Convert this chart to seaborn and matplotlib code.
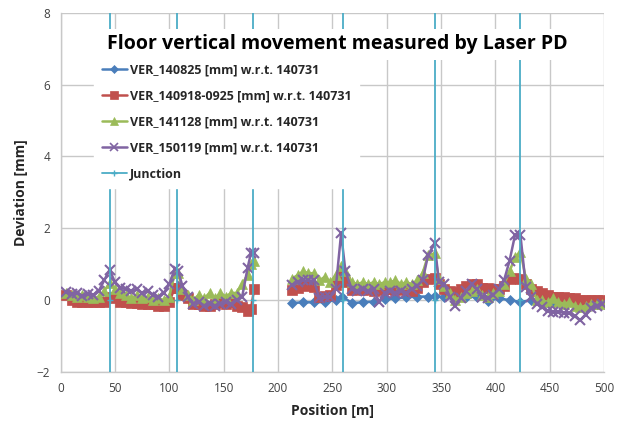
import numpy as np
import pandas as pd
import matplotlib
matplotlib.use("Agg")
import matplotlib.pyplot as plt
from matplotlib.lines import Line2D
import seaborn as sns

# ---------------- data ----------------
x_seg1 = [5, 10, 15, 20, 25, 30, 35, 40, 45, 50, 55, 60, 65, 70, 75, 80, 85, 90, 95, 100,
          105, 108, 112, 117, 122, 127, 132, 137, 142, 147, 152, 157, 162, 167, 172, 175, 178]
x_seg2 = [213, 218, 223, 228, 233, 238, 243, 248, 253, 258, 262, 268, 273, 278, 283, 288,
          293, 298, 303, 308, 313, 318, 323, 328, 333, 338, 344, 348, 353, 358, 363, 368,
          373, 378, 383, 388, 393, 398, 403, 408, 413, 418, 423, 428, 433, 438, 443, 448,
          453, 458, 463, 468, 473, 478, 483, 488, 493, 498]

red_seg1 = [0.15, 0.0, -0.05, -0.05, -0.05, -0.05, -0.05, -0.05, 0.1, 0.05, -0.05, -0.05,
            -0.08, -0.08, -0.1, -0.1, -0.1, -0.15, -0.15, -0.05, 0.35, 0.35, 0.15, 0.05,
            -0.1, -0.1, -0.15, -0.15, -0.1, -0.05, -0.1, -0.05, -0.15, -0.2, -0.3, -0.25, 0.3]
green_seg1 = [0.2, 0.15, 0.1, 0.15, 0.1, 0.05, 0.1, 0.25, 0.48, 0.3, 0.2, 0.15, 0.05, 0.15,
              0.05, 0.1, 0.0, 0.05, 0.0, 0.1, 0.75, 0.75, 0.3, 0.15, 0.0, 0.15, 0.05, 0.2,
              0.05, 0.2, 0.1, 0.2, 0.2, 0.45, 0.7, 1.0, 1.1]
purple_seg1 = [0.22, 0.18, 0.2, 0.12, 0.18, 0.15, 0.25, 0.55, 0.84, 0.5, 0.35, 0.3, 0.25,
               0.3, 0.2, 0.25, 0.15, 0.1, 0.2, 0.45, 0.88, 0.82, 0.4, 0.1, -0.1, -0.05,
               -0.15, -0.1, -0.15, -0.1, -0.05, -0.1, 0.0, 0.1, 0.9, 1.3, 1.3]

red_seg2 = [0.28, 0.35, 0.42, 0.4, 0.38, 0.1, 0.12, 0.15, 0.42, 0.7, 0.5, 0.28, 0.3, 0.28,
            0.3, 0.25, 0.28, 0.3, 0.3, 0.28, 0.3, 0.28, 0.25, 0.35, 0.5, 0.6, 0.62, 0.45,
            0.3, 0.25, 0.23, 0.3, 0.4, 0.45, 0.45, 0.35, 0.35, 0.3, 0.3, 0.4, 0.6, 0.62,
            0.6, 0.45, 0.32, 0.25, 0.2, 0.15, 0.1, 0.1, 0.1, 0.05, 0.05, 0.0, 0.0, 0.0,
            0.0, 0.0]
green_seg2 = [0.6, 0.7, 0.8, 0.75, 0.75, 0.55, 0.65, 0.5, 0.7, 0.95, 0.8, 0.5, 0.45, 0.5,
              0.45, 0.5, 0.45, 0.5, 0.5, 0.55, 0.45, 0.5, 0.45, 0.55, 0.75, 1.25, 1.3, 0.6,
              0.4, 0.2, 0.0, 0.1, 0.2, 0.25, 0.3, 0.15, 0.1, 0.2, 0.25, 0.45, 0.8, 1.2,
              1.35, 0.6, 0.45, 0.0, 0.0, -0.05, 0.05, -0.05, -0.1, -0.05, -0.15, -0.2,
              -0.15, -0.1, -0.1, -0.1]
purple_seg2 = [0.42, 0.5, 0.55, 0.55, 0.55, 0.05, 0.08, 0.1, 0.3, 1.86, 0.8, 0.3, 0.25,
               0.3, 0.25, 0.3, -0.05, 0.2, 0.25, 0.2, 0.25, 0.2, 0.3, 0.4, 0.55, 1.25,
               1.58, 0.5, 0.45, 0.1, -0.15, 0.05, 0.25, 0.45, 0.3, 0.1, 0.05, 0.15, 0.3,
               0.56, 1.1, 1.81, 1.81, 0.37, 0.1, -0.1, -0.2, -0.3, -0.33, -0.33, -0.35,
               -0.37, -0.45, -0.56, -0.4, -0.23, -0.15, -0.1]

blue_x = [213, 223, 233, 243, 253, 259, 268, 278, 288, 298, 308, 318, 328, 338, 344, 353,
          363, 373, 383, 393, 403, 413, 423, 433, 443, 453, 463, 473, 483, 493, 500]
blue_y = [-0.08, -0.06, -0.06, -0.05, 0.0, 0.1, -0.08, -0.06, -0.04, 0.02, 0.05, 0.08,
          0.1, 0.1, 0.12, 0.08, 0.02, 0.08, 0.1, -0.02, 0.05, 0.0, -0.05, 0.0, -0.03,
          -0.05, -0.05, -0.02, -0.05, -0.05, -0.1]

junction_x = [45, 107, 177, 260, 344, 423]

series_names = ["VER_140825 [mm] w.r.t. 140731",
                "VER_140918-0925 [mm] w.r.t. 140731",
                "VER_141128 [mm] w.r.t. 140731",
                "VER_150119 [mm] w.r.t. 140731"]
colors = ["#4A7EBB", "#C0504D", "#9BBB59", "#8064A2"]
junction_color = "#4BACC6"
markers = ["D", "s", "^", "x"]
msizes = [5, 6.5, 6.5, 7]

# ---------------- build frames ----------------
frames = []
frames.append(pd.DataFrame({"pos": blue_x, "dev": blue_y, "seg": 2,
                            "series": series_names[0]}))
for name, s1, s2 in [(series_names[1], red_seg1, red_seg2),
                     (series_names[2], green_seg1, green_seg2),
                     (series_names[3], purple_seg1, purple_seg2)]:
    frames.append(pd.DataFrame({"pos": x_seg1, "dev": s1, "seg": 1, "series": name}))
    frames.append(pd.DataFrame({"pos": x_seg2, "dev": s2, "seg": 2, "series": name}))
df = pd.concat(frames, ignore_index=True)

# ---------------- plot ----------------
sns.set_style("white")
plt.rcParams["font.family"] = ["Open Sans", "DejaVu Sans"]

fig = plt.figure(figsize=(6.19, 4.25), dpi=100)
ax = fig.add_axes([0.098, 0.1247, 0.878, 0.8453])

grid_c = "#C8C8C8"
for i, name in enumerate(series_names):
    sub = df[df["series"] == name]
    sns.lineplot(data=sub, x="pos", y="dev", units="seg", estimator=None,
                 color=colors[i], marker=markers[i], markersize=msizes[i],
                 markeredgecolor=colors[i], markeredgewidth=1.5 if markers[i] == "x" else 0.5,
                 linewidth=1.8, ax=ax, legend=False, zorder=3 + i, sort=False)

ax.vlines(junction_x, -2, 8, color=junction_color, linewidth=1.3, zorder=8)
ax.plot(junction_x, [0] * len(junction_x), linestyle="none", marker="+",
        color=junction_color, markersize=4, zorder=8)

ax.set_xlim(0, 500)
ax.set_ylim(-2, 8)
ax.set_xticks(np.arange(0, 501, 50))
ax.set_yticks(np.arange(-2, 9, 2))
ax.grid(True, color=grid_c, linewidth=1.0, zorder=0)
ax.set_axisbelow(True)
for sp in ["top", "right"]:
    ax.spines[sp].set_visible(False)
for sp in ["left", "bottom"]:
    ax.spines[sp].set_color(grid_c)
    ax.spines[sp].set_linewidth(1.0)
ax.tick_params(axis="both", which="both", length=4, color=grid_c, labelsize=8.5,
               labelcolor="#404040", direction="out")

ax.set_xlabel("Position [m]", fontsize=10, fontweight="bold", labelpad=6)
ax.set_ylabel("Deviation [mm]", fontsize=10, fontweight="bold", labelpad=6)

ax.text(0.5086, 0.912, "Floor vertical movement measured by Laser PD", transform=ax.transAxes,
        ha="center", va="center", fontsize=14, fontweight="bold", color="black",
        zorder=20,
        bbox=dict(facecolor="white", edgecolor="none", pad=4))

handles = []
for i, name in enumerate(series_names):
    handles.append(Line2D([0], [0], color=colors[i], marker=markers[i],
                          markersize=msizes[i] * 0.8, linewidth=1.8,
                          markeredgewidth=1.2 if markers[i] == "x" else 0.5,
                          markeredgecolor=colors[i]))
handles.append(Line2D([0], [0], color=junction_color, marker="+", markersize=4,
                      linewidth=1.3))
labels = series_names + ["Junction"]
leg = ax.legend(handles, labels, loc="upper left", bbox_to_anchor=(0.062, 0.880),
                borderaxespad=0.0,
                frameon=True, fancybox=False, edgecolor="white", facecolor="white",
                framealpha=1.0, fontsize=9, handlelength=2.0, handletextpad=0.25,
                labelspacing=1.05, borderpad=0.6)
for t in leg.get_texts():
    t.set_fontweight("bold")
leg.set_zorder(20)

fig.savefig("out.png", dpi=100)
